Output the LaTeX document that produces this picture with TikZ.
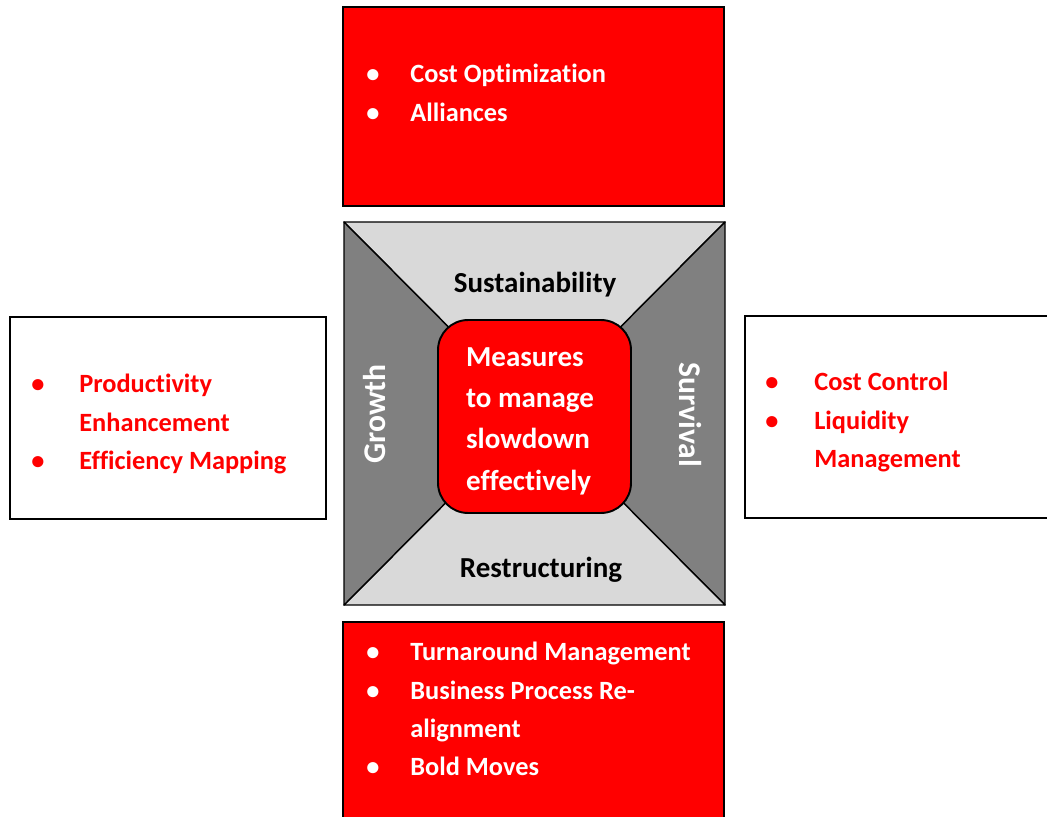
\documentclass[tikz,border=0pt]{standalone}
\usepackage{fontspec}
\setmainfont{Carlito}[RawFeature=-liga]
\usetikzlibrary{fit}

\definecolor{boxred}{RGB}{255,0,0}
\definecolor{lightgrey}{RGB}{217,217,217}
\definecolor{darkgrey}{RGB}{128,128,128}

% bullet with a fixed tab after it
\newcommand{\bul}[1][0.88cm]{\makebox[#1][l]{\textbullet}}

\tikzset{
  panel/.style={draw=black, line width=1.1pt, inner sep=0pt, outer sep=0pt},
  wedge/.style={draw=black, line width=0.8pt, line join=round},
  listtext/.style={anchor=north west, align=left, inner sep=0pt,
    font=\fontsize{15}{21.8}\selectfont\bfseries},
  core/.style={draw=black, line width=1.1pt, fill=boxred,
    minimum width=3.86cm, minimum height=3.86cm, rounded corners=0.6cm},
  coretext/.style={text=white, align=left, inner sep=0pt,
    font=\fontsize{16.5}{23.5}\selectfont\bfseries},
  quadlabel/.style={font=\fontsize{16.5}{20}\selectfont\bfseries},
  sidelabel/.style={text=white, font=\fontsize{18}{20}\selectfont\bfseries},
}

\begin{document}
\begin{tikzpicture}[x=0.02cm, y=-0.02cm]
\useasboundingbox (0,0) rectangle (1047,817);

% the four outer boxes
\node[panel, fill=boxred, fit={(343,7) (724,206)}] (optbox) {};
\node[panel, fill=white, fit={(10,317) (326,519)}] (growbox) {};
\node[panel, fill=white, fit={(745,316) (1065,518)}] (survbox) {};
\node[panel, fill=boxred, fit={(343,622) (724,840)}] (turnbox) {};

% square split into four triangles
\coordinate (nw) at (344,222);
\coordinate (ne) at (725,222);
\coordinate (se) at (725,605);
\coordinate (sw) at (344,605);
\coordinate (mid) at (534.5,413.5);

\filldraw[wedge, fill=lightgrey] (nw) -- (ne) -- (mid) -- cycle;
\filldraw[wedge, fill=darkgrey] (ne) -- (se) -- (mid) -- cycle;
\filldraw[wedge, fill=lightgrey] (se) -- (sw) -- (mid) -- cycle;
\filldraw[wedge, fill=darkgrey] (sw) -- (nw) -- (mid) -- cycle;

\node[quadlabel] (sust) at (535,285) {Sustainability};
\node[quadlabel] (restr) at (541,570) {Restructuring};
\node[sidelabel, rotate=90] (growth) at (375,414) {Growth};
\node[sidelabel, rotate=-90] (surv) at (690,415) {Survival};

\node[core] (core) at (534.5,416.5) {};
\node[coretext] (coremsg) at (530,421) {Measures\\to manage\\slowdown\\effectively};

% bullet lists
\node[listtext, text=white] (optlist) at (366,64)
  {\bul Cost Optimization\\\bul Alliances};
\node[listtext, text=boxred] (growlist) at (31,374)
  {\bul[0.96cm]Productivity\\\hspace*{0.96cm}Enhancement\\\bul[0.96cm]Efficiency Mapping};
\node[listtext, text=boxred] (survlist) at (765,372)
  {\bul[0.98cm]Cost Control\\\bul[0.98cm]Liquidity\\\hspace*{0.98cm}Management};
\node[listtext, text=white] (turnlist) at (366,642)
  {\bul Turnaround Management\\\bul Business Process Re-\\\hspace*{0.88cm}alignment\\\bul Bold Moves};
\end{tikzpicture}
\end{document}
